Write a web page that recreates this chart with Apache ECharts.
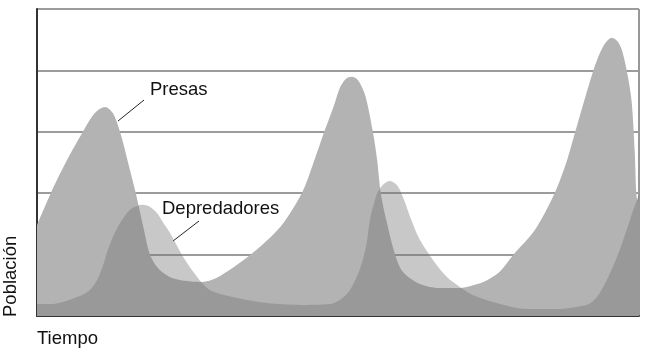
<!DOCTYPE html>
<html>
<head>
<meta charset="utf-8">
<script src="https://cdn.jsdelivr.net/npm/echarts@6/dist/echarts.min.js"></script>
<style>html,body{margin:0;padding:0;background:#fff}#c{width:650px;height:350px}</style>
</head>
<body>
<div id="c"></div>
<script>
// Time (0..100) and population (0..100)
const tiempoPresas = [0,2.3,4.65,7.6,9.6,11.3,12.6,13.8,15.1,16.4,17.6,18.8,20.4,22.9,27.1,29.8,35.4,40.4,44.0,45.8,47.7,49.2,50.3,51.3,52.3,53.3,54.5,55.8,56.5,57.1,58.1,59.5,60.8,63.6,66.9,69.8,73.6,75.4,76.9,79.1,82.7,86.0,87.9,89.4,92.4,94.0,95.5,96.5,97.3,98.2,98.8,99.3,99.6,100];
const presas = [29.6,40.1,49.5,59.9,66.1,68.1,66.1,59.9,50.2,40.1,29.6,19.9,15.0,12.1,11.1,12.4,19.9,29.0,40.1,49.2,59.9,67.8,74.3,77.2,77.9,76.9,72.0,59.9,50.8,40.1,30.6,19.9,14.3,10.4,9.1,9.1,10.7,12.4,14.5,19.9,28.0,40.1,49.8,59.9,79.8,87.6,90.6,89.3,85.7,77.5,69.4,53.1,38.8,37];
const tiempoDepredadores = [0,2.2,4.3,7.1,8.8,10.0,11.0,11.6,12.6,13.8,15.4,16.6,17.6,18.8,19.9,20.9,22.1,24.3,26.6,28.7,32.6,38.2,43.7,48.7,50.3,52.0,53.7,54.7,55.3,56.0,56.6,57.6,58.6,59.6,60.3,61.1,62.0,63.6,65.8,68.1,70.3,72.4,75.7,81.4,86.9,90.7,92.2,93.5,95.2,96.8,98.5,100];
const depredadores = [3.9,3.9,4.6,6.5,8.5,11.7,16.6,20.5,25.7,30.3,34.5,35.8,36.2,35.5,33.6,30.6,27.0,19.2,12.7,8.5,6.2,4.2,3.6,3.9,5.2,8.5,15.6,23.1,31.3,36.8,40.4,43.0,44.0,43.0,41.0,37.1,32.2,24.8,18.2,12.7,9.4,6.8,4.6,2.3,2.3,3.3,4.6,7.5,14.0,21.5,31.3,39.7];
const yTicks = [0,20,40,60,80,100];

const zip = (a,b) => a.map((v,i) => [v,b[i]]);
const chart = echarts.init(document.getElementById('c'));
const font = '"Liberation Sans", Arial, sans-serif';
chart.setOption({
  animation: false,
  grid: {left: 37, right: 11, top: 9, bottom: 34, show: true, borderColor: '#333', borderWidth: 1, backgroundColor: 'transparent'},
  xAxis: {type: 'value', min: 0, max: 100, axisLine: {show: true, onZero: false, lineStyle: {color: '#333', width: 2}}, axisTick: {show: false}, axisLabel: {show: false}, splitLine: {show: false}},
  yAxis: {type: 'value', min: yTicks[0], max: yTicks[yTicks.length-1], interval: 20,
          axisLine: {show: true, onZero: false, lineStyle: {color: '#333', width: 2}}, axisTick: {show: false}, axisLabel: {show: false},
          splitLine: {show: true, lineStyle: {color: '#9c9c9c', width: 2}}},
  series: [
    {name: 'Presas', type: 'line', data: zip(tiempoPresas, presas), smooth: 0.3, symbol: 'none',
     lineStyle: {width: 0}, areaStyle: {color: '#b3b3b3', opacity: 1}},
    {name: 'Depredadores', type: 'line', data: zip(tiempoDepredadores, depredadores), smooth: 0.3, symbol: 'none',
     lineStyle: {width: 0}, areaStyle: {color: 'rgb(114,114,114)', opacity: 0.39}}
  ],
  graphic: [
    {type: 'text', left: 150, top: 80, style: {text: 'Presas', font: '18.5px ' + font, fill: '#111'}},
    {type: 'line', shape: {x1: 144, y1: 100, x2: 118, y2: 121}, style: {stroke: '#222', lineWidth: 1}},
    {type: 'text', left: 162, top: 199, style: {text: 'Depredadores', font: '18.5px ' + font, fill: '#111'}},
    {type: 'line', shape: {x1: 199, y1: 221, x2: 173, y2: 241}, style: {stroke: '#222', lineWidth: 1}},
    {type: 'text', left: 37, top: 329, style: {text: 'Tiempo', font: '18.5px ' + font, fill: '#111'}},
    {type: 'text', x: 20, y: 317, rotation: Math.PI/2, style: {text: 'Población', font: '18.5px ' + font, fill: '#111', textAlign: 'left', textVerticalAlign: 'bottom'}}
  ]
});
</script>
</body>
</html>
